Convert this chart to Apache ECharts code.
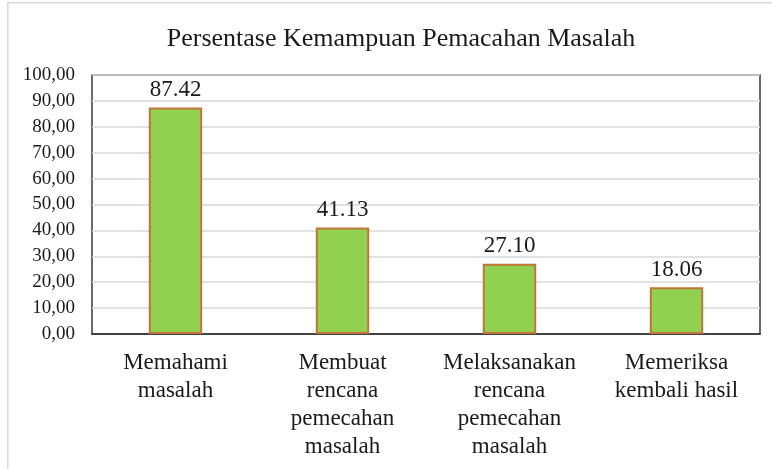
<!DOCTYPE html>
<html>
<head>
<meta charset="utf-8">
<script src="https://cdn.jsdelivr.net/npm/echarts@6/dist/echarts.min.js"></script>
<style>
  html, body { margin: 0; padding: 0; background: #fff; }
  #chart { width: 772px; height: 469px; }
</style>
</head>
<body>
<div id="chart"></div>
<script>
// data
const categories = [
  'Memahami\nmasalah',
  'Membuat\nrencana\npemecahan\nmasalah',
  'Melaksanakan\nrencana\npemecahan\nmasalah',
  'Memeriksa\nkembali hasil'
];
const values = [87.42, 41.13, 27.10, 18.06];
const yMin = 0;
const yMax = 100;
const yStep = 10;

const font = '"Liberation Serif", "Times New Roman", serif';

const chart = echarts.init(document.getElementById('chart'));

const option = {
  backgroundColor: '#fff',
  animation: false,
  title: {
    text: 'Persentase Kemampuan Pemacahan Masalah',
    left: 396,
    textAlign: 'center',
    top: 21,
    textStyle: {
      fontFamily: font,
      fontSize: 26,
      fontWeight: 'normal',
      color: '#1a1a1a'
    }
  },
  // light frame around the chart area
  graphic: [
    {
      type: 'rect',
      left: 7,
      top: 2,
      shape: { width: 820, height: 520 },
      style: { fill: 'transparent', stroke: '#d9d9d9', lineWidth: 1.5 },
      z: -1
    }
  ],
  grid: {
    left: 92,
    right: 12,
    top: 75,
    bottom: 135,
    show: true,
    borderColor: '#3a3a3a',
    borderWidth: 1.5,
    backgroundColor: 'transparent'
  },
  xAxis: {
    type: 'category',
    data: categories,
    axisTick: { show: false },
    axisLine: { show: true, lineStyle: { color: '#1a1a1a', width: 1.5 } },
    axisLabel: {
      interval: 0,
      margin: 15,
      fontFamily: font,
      fontSize: 23,
      lineHeight: 28,
      color: '#1a1a1a'
    }
  },
  yAxis: {
    type: 'value',
    min: yMin,
    max: yMax,
    interval: yStep,
    axisLine: { show: false },
    axisTick: { show: false },
    splitLine: { lineStyle: { color: '#d9d9d9', width: 1.5 } },
    axisLabel: {
      margin: 17,
      fontFamily: font,
      fontSize: 19,
      color: '#1a1a1a',
      formatter: v => v.toFixed(2).replace('.', ',')
    }
  },
  series: [
    {
      type: 'bar',
      data: values,
      barWidth: '32%',
      itemStyle: {
        color: '#92D050',
        borderColor: '#C0763A',
        borderWidth: 2
      },
      label: {
        show: true,
        position: 'top',
        distance: 6,
        fontFamily: font,
        fontSize: 23,
        color: '#1a1a1a',
        formatter: p => p.value.toFixed(2)
      }
    }
  ]
};

chart.setOption(option);
</script>
</body>
</html>
